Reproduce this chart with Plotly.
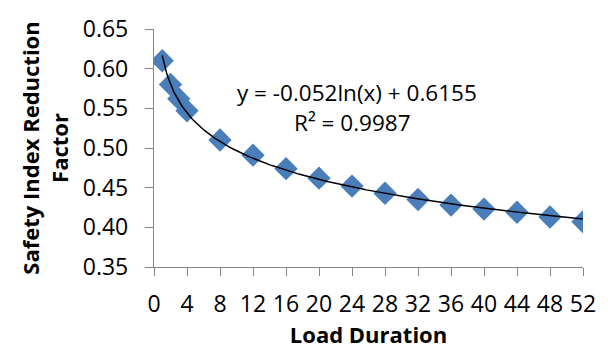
import numpy as np
import plotly.graph_objects as go

load_duration = [1, 2, 3, 4, 8, 12, 16, 20, 24, 28, 32, 36, 40, 44, 48, 52]
reduction_factor = [0.610, 0.580, 0.562, 0.547, 0.510, 0.491, 0.474, 0.462, 0.452,
                    0.443, 0.435, 0.428, 0.423, 0.419, 0.413, 0.407]
x_ticks = [0, 4, 8, 12, 16, 20, 24, 28, 32, 36, 40, 44, 48, 52]
y_ticks = [0.35, 0.40, 0.45, 0.50, 0.55, 0.60, 0.65]
equation_text = "y = -0.052ln(x) + 0.6155"
r2_text = "R² = 0.9987"

# logarithmic least-squares trendline fitted to the data
coef = np.polyfit(np.log(load_duration), reduction_factor, 1)
tx = np.linspace(1, 52, 300)
ty = coef[0] * np.log(tx) + coef[1]

FONT = "Open Sans"
fig = go.Figure()
fig.add_trace(go.Scatter(x=load_duration, y=reduction_factor, mode="markers",
                         marker=dict(symbol="diamond", size=18, color="#4A7EBB",
                                     line=dict(width=0)),
                         showlegend=False))
fig.add_trace(go.Scatter(x=tx, y=ty, mode="lines",
                         line=dict(color="black", width=1.5), showlegend=False))

fig.add_annotation(x=24.6, y=0.570, xref="x", yref="y", text=equation_text,
                   showarrow=False, font=dict(family=FONT, size=22.5, color="black"),
                   xanchor="center", yanchor="middle")
fig.add_annotation(x=24.1, y=0.532, xref="x", yref="y", text=r2_text,
                   showarrow=False, font=dict(family=FONT, size=22.5, color="black"),
                   xanchor="center", yanchor="middle")

axis_common = dict(showline=True, linecolor="#868686", linewidth=1.3,
                   ticks="outside", tickcolor="#868686", ticklen=8, tickwidth=1.3,
                   showgrid=False, zeroline=False,
                   tickfont=dict(family=FONT, size=23, color="black"))
fig.update_xaxes(range=[0, 52], tickvals=x_ticks, ticklabelstandoff=8,
                 title=dict(text="<b>Load Duration</b>", standoff=4,
                            font=dict(family=FONT, size=22, color="black")),
                 **axis_common)
fig.update_yaxes(range=[0.35, 0.65], tickvals=y_ticks, tickformat=".2f",
                 ticklabelstandoff=12,
                 title=dict(text="<b>Safety Index Reduction<br>Factor</b>", standoff=8,
                            font=dict(family=FONT, size=22, color="black")),
                 **axis_common)
fig.update_layout(width=608, height=350, margin=dict(l=154, r=23, t=20, b=79),
                  plot_bgcolor="white", paper_bgcolor="white")
fig.write_html("out.html", config={"displayModeBar": False},
               post_script="document.body.style.margin='0';document.body.style.overflow='hidden';")
